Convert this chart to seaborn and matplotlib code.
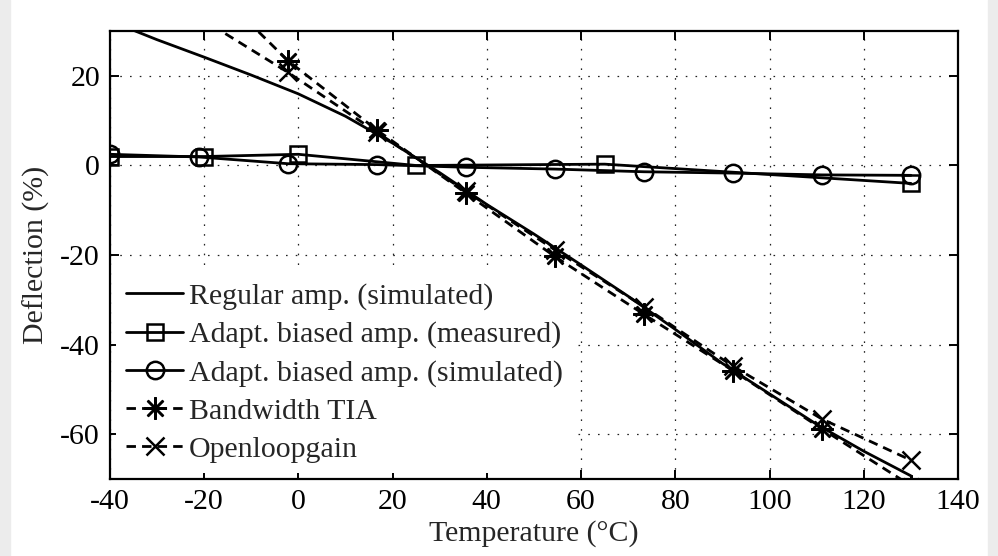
import matplotlib
matplotlib.use("Agg")
import matplotlib.pyplot as plt
from matplotlib.patches import Rectangle
import seaborn as sns

# Temperature sweep (°C) and deflection (%) for each amplifier variant
temp_regular = [-40, -30, -20, -10, 0, 10, 20, 30, 40, 50, 60, 70, 80, 90, 100, 110, 120, 130]
defl_regular = [32.3, 28.1, 24.2, 20.2, 16.0, 11.0, 5.0, -1.6, -8.7, -15.3, -22.2,
                -29.2, -36.6, -44.2, -51.0, -57.8, -63.8, -69.3]

temp_meas = [-40, -20, 0, 25, 65, 130]
defl_meas = [2.0, 2.0, 2.5, 0.0, 0.3, -4.0]

temp_sim = [-40, -21.1, -2.2, 16.7, 35.6, 54.4, 73.3, 92.2, 111.1, 130]
defl_sim = [2.5, 1.9, 0.4, 0.2, -0.4, -0.8, -1.4, -1.7, -2.1, -2.2]

temp_tia = [-21.1, -2.2, 16.7, 35.6, 54.4, 73.3, 92.2, 111.1, 130]
defl_tia = [43.0, 23.4, 7.9, -6.2, -20.3, -33.2, -45.8, -58.8, -71.5]

temp_olg = [-21.1, -2.2, 16.7, 35.6, 54.4, 73.3, 92.2, 111.1, 130]
defl_olg = [33.1, 20.8, 7.4, -5.8, -18.8, -31.5, -44.8, -56.6, -65.8]

labels = ["Regular amp. (simulated)",
          "Adapt. biased amp. (measured)",
          "Adapt. biased amp. (simulated)",
          "Bandwidth TIA",
          "Openloopgain"]

x_ticks = [-40, -20, 0, 20, 40, 60, 80, 100, 120, 140]
y_ticks = [-60, -40, -20, 0, 20]

sns.set_style("white")
plt.rcParams["font.family"] = ["Liberation Serif", "DejaVu Serif"]
plt.rcParams["axes.unicode_minus"] = False
plt.rcParams["font.size"] = 21.5

fig = plt.figure(figsize=(9.98, 5.56), dpi=100)
fig.patch.set_facecolor("white")
ax = fig.add_axes([0.110, 0.1385, 0.850, 0.8055])

dash = (0, (3.4, 2.2))
common = dict(ax=ax, color="k", linewidth=2.0, markeredgecolor="k",
              markeredgewidth=1.8, markerfacecolor="none", sort=False)

sns.lineplot(x=temp_regular, y=defl_regular, label=labels[0], **common)
sns.lineplot(x=temp_meas, y=defl_meas, label=labels[1], marker="s", markersize=11.5, **common)
sns.lineplot(x=temp_sim, y=defl_sim, label=labels[2], marker="o", markersize=12.5, **common)
sns.lineplot(x=temp_tia, y=defl_tia, label=labels[3], marker=(8, 2, 0), markersize=16,
             linestyle=dash, **common)
sns.lineplot(x=temp_olg, y=defl_olg, label=labels[4], marker="x", markersize=13,
             linestyle=dash, **common)

ax.set_xlim(-40, 140)
ax.set_ylim(-70, 30)
ax.set_xticks(x_ticks)
ax.set_yticks(y_ticks)
ax.set_xticklabels([str(t) for t in x_ticks])
ax.set_yticklabels([str(t) for t in y_ticks])

ax.grid(True, color="#222222", linestyle=(0, (1.3, 6.5)), linewidth=0.9)
for s in ax.spines.values():
    s.set_visible(True)
    s.set_color("k")
    s.set_linewidth(1.6)
ax.tick_params(direction="in", length=6.5, width=1.4, top=True, right=True,
               bottom=True, left=True, labelsize=21.5, pad=7, colors="k")

ax.set_xlabel("Temperature (°C)", fontsize=21.5, labelpad=4)
ax.set_ylabel("Deflection (%)", fontsize=21.5, labelpad=7)

leg = ax.legend(loc="lower left", bbox_to_anchor=(0.0, 0.0), frameon=True,
                fancybox=False, framealpha=1, facecolor="white", edgecolor="white",
                fontsize=21.5, handlelength=1.9, handletextpad=0.2,
                labelspacing=0.37, borderpad=0.35, borderaxespad=0.2)
leg.get_frame().set_linewidth(0)

# light page margins at the left and right edges
fig.add_artist(Rectangle((0, 0), 10 / 998, 1, transform=fig.transFigure,
                         color="#ececec", zorder=-1))
fig.add_artist(Rectangle((988 / 998, 0), 10 / 998, 1, transform=fig.transFigure,
                         color="#ececec", zorder=-1))

fig.savefig("out.png", dpi=100)
